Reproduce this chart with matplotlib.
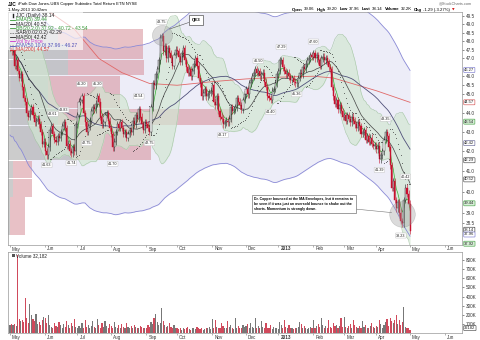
import numpy as np
import pandas as pd
import matplotlib
matplotlib.use("Agg")
import matplotlib.pyplot as plt
from matplotlib.lines import Line2D
from matplotlib.transforms import blended_transform_factory

plt.rcParams['font.family'] = ['Liberation Sans', 'DejaVu Sans']

W, H = 480, 340

# daily closes, one list per month
c_may12 = [47.6, 47.4, 47.5, 46.6, 46.9, 46.3, 45.9, 46.1, 45.4, 44.8, 44.6, 44.0, 43.8, 44.1, 44.3, 43.9, 43.5, 43.6, 43.7, 43.4, 43.0, 42.4, 42.5]
c_jun12 = [42.0, 41.8, 42.2, 43.1, 43.3, 42.9, 42.6, 42.5, 42.8, 42.7, 43.0, 43.3, 43.5, 43.2, 42.3, 42.4, 42.0, 41.9, 42.2, 42.0, 43.4]
c_jul12 = [43.9, 44.6, 44.7, 44.9, 44.0, 43.5, 43.0, 43.3, 43.6, 44.1, 44.3, 44.2, 44.5, 44.9, 44.6, 43.8, 43.4, 43.5, 43.9, 44.0, 43.6, 43.2]
c_aug12 = [42.9, 42.2, 42.5, 43.0, 43.4, 43.2, 43.5, 43.2, 42.9, 43.0, 42.7, 42.9, 43.1, 43.0, 43.6, 43.4, 43.9, 43.7, 44.2, 43.8, 43.4, 43.1, 43.5]
c_sep12 = [43.4, 43.2, 43.0, 44.3, 45.6, 45.5, 46.1, 46.4, 46.9, 48.2, 48.3, 47.4, 47.7, 47.0, 47.6, 47.3, 47.0, 46.6, 47.2, 47.5]
c_oct12 = [47.4, 47.1, 46.8, 47.3, 47.6, 46.9, 46.5, 46.2, 46.4, 46.0, 46.3, 46.7, 47.0, 46.6, 45.9, 45.6, 44.9, 45.1, 45.3, 44.9, 45.0, 45.1, 45.2]
c_nov12 = [45.5, 44.6, 44.4, 44.9, 44.1, 43.8, 43.7, 43.4, 43.5, 43.6, 43.5, 43.7, 44.3, 44.1, 44.2, 44.3, 44.8, 44.6, 44.4, 44.2, 44.7, 45.0]
c_dec12 = [45.3, 45.0, 45.6, 45.8, 46.0, 46.2, 46.4, 46.2, 46.3, 46.0, 46.1, 46.2, 45.7, 45.4, 44.9, 44.8, 44.7, 45.2, 45.3, 45.6, 46.1]
c_jan13 = [46.3, 46.9, 46.9, 46.5, 46.3, 46.1, 46.2, 46.0, 45.8, 45.9, 45.7, 45.6, 45.6, 45.9, 46.2, 46.1, 46.5, 46.4, 46.7, 46.9, 47.0, 47.2, 47.1]
c_feb13 = [47.3, 47.0, 47.2, 46.9, 46.6, 47.0, 47.1, 46.9, 47.0, 46.8, 46.5, 46.4, 45.4, 44.9, 44.5, 44.7, 44.2, 44.4, 44.1, 43.8]
c_mar13 = [43.9, 43.6, 43.9, 43.7, 43.5, 43.8, 43.6, 43.4, 43.2, 43.5, 43.3, 42.9, 43.0, 43.1, 42.6, 42.8, 42.5, 42.7, 42.4, 42.3, 42.3]
c_apr13 = [42.1, 42.3, 41.6, 41.8, 42.0, 42.6, 43.0, 42.8, 42.2, 41.3, 40.2, 40.5, 39.6, 39.2, 39.5, 39.0, 38.6, 38.5, 39.6, 40.2, 39.9, 39.43]
c_may13 = [38.14]

# daily volume in thousands
v_may12 = [85, 95, 90, 100, 80, 860, 150, 130, 140, 120, 380, 160, 110, 320, 200, 150, 130, 210, 100, 120, 90, 140, 180]
v_jun12 = [160, 110, 200, 90, 70, 60, 110, 80, 70, 120, 90, 60, 100, 70, 130, 90, 60, 110, 80, 150, 70]
v_jul12 = [60, 80, 50, 110, 60, 140, 70, 90, 60, 80, 130, 70, 60, 150, 90, 60, 110, 70, 130, 80, 60, 100]
v_aug12 = [80, 60, 120, 70, 50, 90, 60, 100, 70, 60, 110, 70, 50, 80, 60, 90, 70, 60, 50, 80, 70, 60, 50]
v_sep12 = [60, 90, 70, 120, 100, 170, 210, 120, 90, 110, 280, 130, 90, 70, 80, 110, 70, 60, 90, 50]
v_oct12 = [60, 40, 50, 30, 60, 40, 50, 70, 40, 30, 60, 50, 40, 70, 60, 40, 50, 30, 40, 60, 50, 70, 40]
v_nov12 = [150, 60, 140, 70, 50, 60, 110, 80, 60, 50, 130, 70, 90, 60, 40, 170, 60, 80, 50, 60, 90, 70]
v_dec12 = [80, 100, 60, 110, 70, 50, 160, 60, 80, 50, 130, 70, 60, 110, 50, 60, 90, 40, 70, 60, 50]
v_jan13 = [40, 120, 90, 60, 140, 70, 60, 90, 50, 60, 40, 50, 60, 70, 120, 100, 60, 80, 50, 40, 60, 70, 60]
v_feb13 = [140, 60, 80, 100, 70, 160, 90, 60, 80, 50, 140, 70, 60, 110, 80, 90, 60, 80, 170, 70]
v_mar13 = [180, 70, 60, 80, 100, 60, 140, 90, 70, 60, 80, 60, 130, 70, 90, 60, 50, 80, 110, 70, 60]
v_apr13 = [80, 70, 140, 100, 60, 90, 120, 150, 80, 160, 130, 110, 140, 200, 100, 140, 90, 120, 290, 70, 60, 50]
v_may13 = [32.182]

# MA(200) read at a few dates
ma200_dates = ['2012-05-01', '2012-06-01', '2012-06-28', '2012-07-20', '2012-08-10', '2012-09-05',
               '2012-10-01', '2012-11-01', '2012-12-03', '2013-01-02', '2013-02-01', '2013-02-20',
               '2013-03-12', '2013-04-01', '2013-05-01']
ma200_vals = [51.6, 49.9, 48.7, 47.0, 46.2, 45.6, 45.5, 45.7, 45.85, 45.95, 46.0, 45.9, 45.55, 45.2, 44.57]

# volume by price (K shares), bins from low to high
vbp_edges = [37.95, 38.85, 39.75, 40.65, 41.55, 42.45, 43.35, 44.25, 45.15, 46.05, 46.95, 47.85, 48.75]
vbp_up = [40, 40, 100, 100, 1300, 1300, 1000, 800, 800, 1200, 1200, 1000]
vbp_down = [300, 300, 380, 380, 1550, 1550, 3500, 1450, 1450, 1520, 1500, 1700]

# labelled highs / lows
hl_dates = ['2012-06-04', '2012-06-08', '2012-06-19', '2012-06-26', '2012-07-05', '2012-07-10',
            '2012-07-19', '2012-08-02', '2012-08-27', '2012-09-05', '2012-09-17', '2012-11-12',
            '2012-12-13', '2012-12-25', '2013-01-03', '2013-01-17', '2013-02-01', '2013-04-03',
            '2013-04-09', '2013-04-23', '2013-04-26']
hl_vals = [41.63, 43.61, 43.83, 41.74, 45.20, 42.75, 45.20, 41.70, 44.54, 42.75, 48.75, 43.17,
           46.50, 44.40, 47.29, 45.36, 47.60, 41.39, 43.35, 38.23, 40.42]
hl_side = [-1, 1, 1, -1, 1, -1, 1, -1, 1, -1, 1, -1, 1, -1, 1, -1, 1, -1, 1, -1, 1]

# last-value boxes on the price axis: text, position, colour
box_txt = ['46.27', '44.57', '43.54', '42.42', '42.29', '40.52', '39.44', '38.14', '37.96', '37.92']
box_pos = [46.35, 44.57, 43.54, 42.42, 41.55, 40.6, 39.44, 38.2, 37.98, 37.56]
box_col = ['#6a6ac8', '#d04040', '#3a9a3a', '#55558a', '#333333', '#333333', '#3a9a3a', '#222222', '#6a6ac8', '#3a9a3a']

price_ticks = [38.5, 39.0, 40.0, 41.0, 42.0, 43.0, 44.0, 45.0, 45.5, 46.0, 47.0, 47.5, 48.0, 48.5, 49.0, 49.5]
vol_ticks = [100, 200, 300, 400, 500, 600, 700, 800]

closes = np.array(c_may12 + c_jun12 + c_jul12 + c_aug12 + c_sep12 + c_oct12 + c_nov12 +
                  c_dec12 + c_jan13 + c_feb13 + c_mar13 + c_apr13 + c_may13)
vols = np.array(v_may12 + v_jun12 + v_jul12 + v_aug12 + v_sep12 + v_oct12 + v_nov12 +
                v_dec12 + v_jan13 + v_feb13 + v_mar13 + v_apr13 + v_may13)

dates = pd.bdate_range('2012-05-01', '2013-05-01')
n = len(dates)
x = np.arange(n)

opens = np.r_[closes[0], closes[:-1]]
top = np.maximum(opens, closes)
bot = np.minimum(opens, closes)
wick = 0.004
highs = top * (1 + wick)
lows = bot * (1 - wick)
down = closes < opens

s = pd.Series(closes)
ema5 = s.ewm(span=5, adjust=False).mean()
ma20 = s.rolling(20, min_periods=1).mean()
sd20 = s.rolling(20, min_periods=2).std(ddof=0).bfill()
bb_up = ma20 + 2 * sd20
bb_dn = ma20 - 2 * sd20
ma50 = s.rolling(50, min_periods=1).mean()
env_up = ma50 * 1.10
env_dn = ma50 * 0.90


def psar(hi, lo, step=0.02, mx=0.2):
    out = np.zeros(len(hi))
    up = False
    af = step
    ep = lo[0]
    out[0] = hi[0]
    for i in range(1, len(hi)):
        sv = out[i - 1] + af * (ep - out[i - 1])
        if up:
            sv = min(sv, lo[i - 1], lo[max(i - 2, 0)])
            if lo[i] < sv:
                up, sv, ep, af = False, ep, lo[i], step
            elif hi[i] > ep:
                ep, af = hi[i], min(af + step, mx)
        else:
            sv = max(sv, hi[i - 1], hi[max(i - 2, 0)])
            if hi[i] > sv:
                up, sv, ep, af = True, ep, hi[i], step
            elif lo[i] < ep:
                ep, af = lo[i], min(af + step, mx)
        out[i] = sv
    return out


sar = psar(highs, lows)

ext = pd.bdate_range('2012-05-01', '2013-06-30')
m_idx = [i for i in range(len(ext)) if i == 0 or ext[i].month != ext[i - 1].month]
m_lab = ['2013' if (ext[i].month == 1) else ext[i].strftime('%b') for i in m_idx]

fig = plt.figure(figsize=(W / 100, H / 100), dpi=100)
fig.patch.set_facecolor('white')


def fx(px):
    return px / W


def fy(py):
    return 1 - py / H


ax = fig.add_axes([fx(8), fy(245), fx(454), 233 / H])
axv = fig.add_axes([fx(8), fy(333), fx(454), 81 / H])

xl = (-1.3, 294.9)

# envelope and bands
ax.fill_between(x, env_dn, env_up, color='#ededf8', lw=0, zorder=0.5)
ax.plot(x, env_up, color='#8a8ad6', lw=0.6, zorder=2)
ax.plot(x, env_dn, color='#8a8ad6', lw=0.6, zorder=2)

tr = blended_transform_factory(ax.transAxes, ax.transData)
vbp_full = 9080.0
lo_e = np.array(vbp_edges[:-1])
hgt = np.diff(vbp_edges)
up_w = np.array(vbp_up) / vbp_full
dn_w = np.array(vbp_down) / vbp_full
ax.barh(lo_e, up_w, height=hgt * 0.97, align='edge', color='#aaaaaa', alpha=0.6,
        transform=tr, zorder=1)
ax.barh(lo_e, dn_w, left=up_w, height=hgt * 0.97, align='edge', color='#d68e98', alpha=0.55,
        transform=tr, zorder=1)

ax.fill_between(x, bb_dn, bb_up, color='#d2e6d2', alpha=0.7, lw=0, zorder=1.3)
ax.plot(x, bb_up, color='#a6c6a6', lw=0.4, zorder=1.4)
ax.plot(x, bb_dn, color='#a6c6a6', lw=0.4, zorder=1.4)

ma200_x = dates.get_indexer(pd.to_datetime(ma200_dates))
ax.plot(ma200_x, ma200_vals, color='#e06868', lw=0.6, zorder=2)
ax.plot(x, ma50, color='#50507a', lw=0.6, zorder=2)
ax.plot(x, ma20, color='#444444', lw=0.5, zorder=2.1)
ax.plot(x, ema5, color='#35b035', lw=0.5, zorder=2.2)
ax.scatter(x, sar, s=0.25, color='#222222', lw=0, zorder=2.3)

# candles
ccol = np.where(down, '#c8102e', '#222222')
ax.vlines(x, lows, highs, colors=ccol, lw=0.4, zorder=3)
body = np.maximum(top - bot, 0.02)
ax.bar(x, body, bottom=bot, width=0.7, color=np.where(down, '#c8102e', 'white'),
       edgecolor=ccol, lw=0.3, zorder=3.1)

# high/low labels
hx = dates.get_indexer(pd.to_datetime(hl_dates))
for xi, v, sd in zip(hx, hl_vals, hl_side):
    ax.annotate(f'{v:.2f}', (xi, v), xytext=(0, 3.2 * sd), textcoords='offset points',
                ha='center', va='bottom' if sd > 0 else 'top', fontsize=2.7, color='#222',
                bbox=dict(boxstyle='round,pad=0.15', fc='white', ec='#bbbbbb', lw=0.3), zorder=5)

ax.set_yscale('log')
ax.set_ylim(37.5, 49.72)
ax.set_xlim(*xl)
ax.yaxis.tick_right()
ax.set_yticks(price_ticks)
ax.set_yticklabels([f'{t:.1f}' for t in price_ticks])
ax.yaxis.set_minor_locator(plt.NullLocator())
ax.tick_params(axis='y', labelsize=3.3, length=1.5, width=0.4, pad=1, colors='#333')
ax.set_xticks(m_idx)
ax.set_xticklabels([])
ax.tick_params(axis='x', length=1.5, width=0.4, colors='#777')
for sp in ax.spines.values():
    sp.set_color('#999999')
    sp.set_linewidth(0.5)

for t, p, c in zip(box_txt, box_pos, box_col):
    ax.text(1.005, p, t, transform=tr, fontsize=3.0, va='center', ha='left', color='#222',
            bbox=dict(boxstyle='round,pad=0.12', fc='#ffffff' if c != '#3a9a3a' else '#d8f0d8',
                      ec=c, lw=0.4), zorder=6, clip_on=False)

# QE3 and Dr. Copper callouts
ax.scatter([99], [48.35], s=210, color='#9a9a9a', alpha=0.35, edgecolors='#777', lw=0.4, zorder=4)
ax.annotate('QE3', xy=(104, 48.7), xytext=(fx(196), fy(20)), textcoords='figure fraction',
            fontsize=3.2, fontweight='bold', ha='center', va='center',
            bbox=dict(boxstyle='square,pad=0.6', fc='white', ec='#555', lw=0.5),
            arrowprops=dict(arrowstyle='-', lw=0.4, color='#555', shrinkA=0, shrinkB=0), zorder=6)
ax.scatter([256], [38.95], s=340, color='#9a9a9a', alpha=0.35, edgecolors='#777', lw=0.4, zorder=4)
note = ('Dr. Copper bounced at the MA Envelopes, but it remains to\n'
        'be seen if it was just an oversold bounce to shake out the\n'
        'shorts. Momentum is strongly down.')
ax.annotate(note, xy=(249, 39.0), xytext=(fx(254), fy(204)), textcoords='figure fraction',
            fontsize=2.55, fontweight='bold', ha='left', va='center', linespacing=1.3,
            bbox=dict(boxstyle='square,pad=0.7', fc='white', ec='#777', lw=0.5),
            arrowprops=dict(arrowstyle='-', lw=0.4, color='#777', shrinkA=0, shrinkB=0), zorder=6)

# volume panel
vcol = np.where(down, '#d04a5c', '#777777')
axv.bar(x, vols, width=0.75, color=vcol, lw=0)
axv.set_xlim(*xl)
axv.set_ylim(0, 890)
axv.yaxis.tick_right()
axv.set_yticks(vol_ticks)
axv.set_yticklabels([f'{t}K' for t in vol_ticks])
axv.tick_params(axis='y', labelsize=3.3, length=1.5, width=0.4, pad=1, colors='#333')
axv.set_xticks(m_idx)
axv.set_xticklabels([])
axv.tick_params(axis='x', length=1.5, width=0.4, colors='#777')
for sp in axv.spines.values():
    sp.set_color('#999999')
    sp.set_linewidth(0.5)
axv.text(1.005, 32.182, '32182', transform=blended_transform_factory(axv.transAxes, axv.transData),
         fontsize=3.0, va='bottom', ha='left', color='#222',
         bbox=dict(boxstyle='round,pad=0.12', fc='white', ec='#333', lw=0.4), clip_on=False)
axv.add_patch(plt.Rectangle((0.008, 0.935), 0.008, 0.04, transform=axv.transAxes, fc='#555', lw=0))
axv.text(0.018, 0.985, 'Volume 32,182', transform=axv.transAxes, fontsize=3.3, va='top', color='#222')

# month labels under both panels
for py in (249, 337.5):
    for i, lab in zip(m_idx, m_lab):
        ax.annotate(lab, (i, fy(py)), xycoords=('data', 'figure fraction'), xytext=(1.5, 0),
                    textcoords='offset points', fontsize=3.3, color='#333', va='center',
                    fontweight='bold' if lab == '2013' else 'normal', annotation_clip=False)

# legend block
ax.add_patch(plt.Rectangle((0, 0.835), 0.165, 0.165, transform=ax.transAxes, fc='white',
                           alpha=0.65, lw=0, zorder=4.5))
leg = [('JJC (Daily) 38.14', '#222222', None),
       ('EMA(5) 39.44', '#2f9a2f', '-'),
       ('MA(20) 40.52', '#222222', '-'),
       ('BB(20,2.0) 37.92 - 40.72 - 43.54', '#3a9a3a', '-'),
       ('SAR(0.02,0.2) 42.29', '#222222', ':'),
       ('MA(50) 42.42', '#222222', '-'),
       ('Vol by Price', '#cc33cc', '-'),
       ('ENV(50,10.0) 37.96 - 46.27', '#5050b8', '-'),
       ('MA(200) 44.57', '#d83a3a', '-')]
for k, (t, c, ls) in enumerate(leg):
    py = 15.5 + k * 4.3
    if ls:
        fig.add_artist(Line2D([fx(10), fx(15)], [fy(py), fy(py)], color=c, lw=0.6, ls=ls))
    else:
        fig.add_artist(Line2D([fx(12.5), fx(12.5)], [fy(py - 1.5), fy(py + 1.5)], color=c, lw=1.0))
    fig.text(fx(16), fy(py), t, fontsize=3.6, color=c, va='center')

# header
fig.text(fx(8), fy(4), 'JJC', fontsize=3.4, fontweight='bold', va='center')
fig.text(fx(18), fy(4), 'iPath Dow Jones-UBS Copper Subindex Total Return ETN NYSE', fontsize=3.0, va='center')
fig.text(fx(8), fy(9.5), '1-May-2013 10:42am', fontsize=3.0, va='center')
fig.text(fx(472), fy(3), '@StockCharts.com', fontsize=2.8, color='#666', ha='right', va='center')
hdr = [('Open', True), ('39.06', False), ('High', True), ('39.20', False), ('Low', True),
       ('37.96', False), ('Last', True), ('38.14', False), ('Volume', True), ('32.2K', False),
       ('Chg', True), ('-1.29 (-3.27%)', False)]
rend = fig.canvas.get_renderer()
xc = 292.0
for t, b in hdr:
    tt = fig.text(fx(xc), fy(9.5), t, fontsize=3.1, ha='left', va='center',
                  fontweight='bold' if b else 'normal')
    xc += tt.get_window_extent(renderer=rend).width + (1.2 if b else 2.2)
fig.text(fx(xc + 1.5), fy(9.5), '\u25bc', fontsize=2.4, color='#d01010', ha='center', va='center',
         family='DejaVu Sans')

fig.savefig('out.png', dpi=100)
